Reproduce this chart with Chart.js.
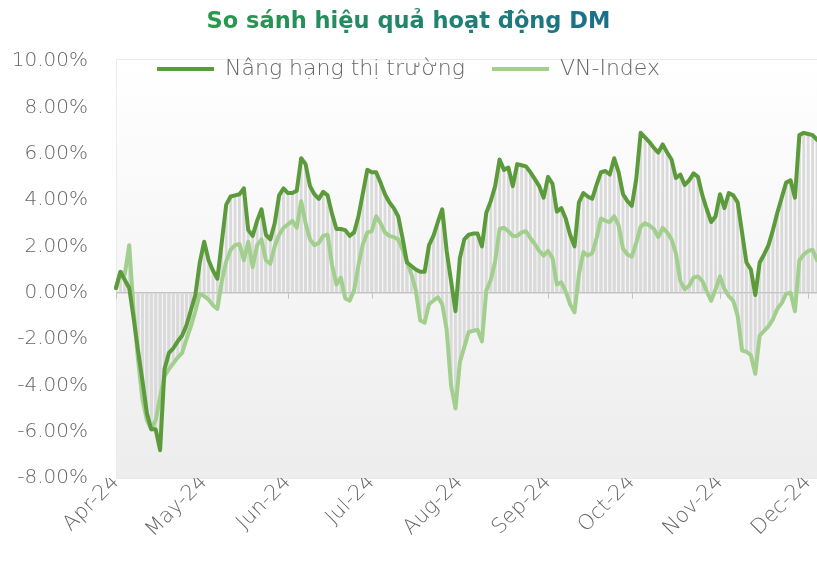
<!DOCTYPE html>
<html>
<head>
<meta charset="utf-8">
<script src="https://cdn.jsdelivr.net/npm/chart.js@4.4.1/dist/chart.umd.min.js"></script>
<style>
html,body{margin:0;padding:0;background:#ffffff;}
canvas{display:block;}
</style>
</head>
<body>
<canvas id="c" width="817" height="569"></canvas>
<script>
// ---- data ----
const monthLabels = ['Apr-24','May-24','Jun-24','Jul-24','Aug-24','Sep-24','Oct-24','Nov-24','Dec-24'];
const monthStartIndex = [0, 20, 39, 58, 78, 98, 117, 137, 157];

const nangHang = [
 0.2, 0.9, 0.55, 0.2, -1.1, -2.5, -3.8, -5.2, -5.9, -5.9,
 -6.8, -3.3, -2.6, -2.4, -2.1, -1.85, -1.4, -0.75, -0.1, 1.3,
 2.2, 1.4, 0.95, 0.6, 2.2, 3.8, 4.15, 4.2, 4.25, 4.5,
 2.7, 2.45, 3.1, 3.6, 2.5, 2.3, 3.0, 4.2, 4.5, 4.3,
 4.3, 4.4, 5.8, 5.55, 4.6, 4.25, 4.05, 4.35, 4.2, 3.4,
 2.75, 2.75, 2.7, 2.45, 2.6, 3.3, 4.3, 5.3, 5.2, 5.2,
 4.75, 4.25, 3.9, 3.65, 3.3, 2.35, 1.3, 1.15, 1.0, 0.9,
 0.9, 2.05, 2.45, 3.05, 3.6, 1.8, 0.5, -0.8, 1.5, 2.3,
 2.5, 2.55, 2.55, 2.0, 3.45, 3.95, 4.6, 5.75, 5.3, 5.4,
 4.6, 5.55, 5.5, 5.45, 5.2, 4.9, 4.6, 4.1, 5.0, 4.7,
 3.5, 3.65, 3.2, 2.5, 2.0, 3.9, 4.3, 4.15, 4.05, 4.65,
 5.2, 5.25, 5.1, 5.8, 5.2, 4.25, 3.95, 3.75, 4.9, 6.9,
 6.7, 6.5, 6.25, 6.05, 6.4, 6.05, 5.75, 4.95, 5.1, 4.65,
 4.85, 5.15, 5.0, 4.2, 3.6, 3.05, 3.3, 4.25, 3.65, 4.3,
 4.2, 3.9, 2.6, 1.3, 1.0, -0.1, 1.3, 1.65, 2.05, 2.7,
 3.45, 4.1, 4.75, 4.85, 4.1, 6.8, 6.9, 6.85, 6.8, 6.6
];

const vnIndex = [
 0.2, 0.9, 0.8, 2.05, -0.8, -2.9, -4.6, -5.5, -5.9, -5.5,
 -4.5, -3.6, -3.3, -3.05, -2.8, -2.6, -2.0, -1.45, -0.8, -0.05,
 -0.15, -0.3, -0.55, -0.7, 0.5, 1.35, 1.85, 2.05, 2.1, 1.4,
 2.2, 1.1, 2.05, 2.3, 1.4, 1.25, 2.0, 2.5, 2.8, 2.95,
 3.1, 2.8, 3.95, 3.0, 2.3, 2.05, 2.15, 2.45, 2.5, 1.2,
 0.35, 0.65, -0.25, -0.35, 0.1, 1.2, 2.1, 2.6, 2.65, 3.3,
 3.0, 2.6, 2.45, 2.4, 2.3, 1.85, 1.35, 0.8, 0.1, -1.2,
 -1.3, -0.5, -0.35, -0.2, -0.5, -1.6, -4.0, -5.0, -3.0, -2.35,
 -1.7, -1.65, -1.6, -2.1, 0.1, 0.55, 1.35, 2.75, 2.8, 2.65,
 2.45, 2.45, 2.6, 2.65, 2.35, 2.1, 1.8, 1.6, 1.8, 1.5,
 0.35, 0.45, 0.05, -0.5, -0.85, 0.8, 1.75, 1.6, 1.7, 2.35,
 3.2, 3.1, 3.05, 3.3, 2.9, 1.9, 1.65, 1.55, 2.15, 2.85,
 3.0, 2.9, 2.75, 2.4, 2.8, 2.6, 2.3, 1.7, 0.5, 0.15,
 0.3, 0.65, 0.7, 0.5, 0.05, -0.35, 0.15, 0.7, 0.15, -0.15,
 -0.35, -1.0, -2.5, -2.55, -2.7, -3.5, -1.85, -1.65, -1.45, -1.15,
 -0.7, -0.45, -0.05, 0.0, -0.8, 1.4, 1.65, 1.8, 1.85, 1.4
];

const seriesNames = ['Nâng hạng thị trường', 'VN-Index'];
const chartTitle = 'So sánh hiệu quả hoạt động DM';
const yMin = -8, yMax = 10, yStep = 2;

// category labels: month name at month start, blank elsewhere
const categories = nangHang.map((_, i) => {
  const k = monthStartIndex.indexOf(i);
  return k >= 0 ? monthLabels[k] : '';
});

// ---- plugins ----
const plotBg = {
  id: 'plotBg',
  beforeDraw(chart) {
    const {ctx, chartArea: a} = chart;
    const g = ctx.createLinearGradient(0, a.top, 0, a.bottom);
    g.addColorStop(0, '#ffffff');
    g.addColorStop(1, '#ededed');
    ctx.save();
    ctx.fillStyle = g;
    ctx.fillRect(a.left, a.top - 2, a.right - a.left, a.bottom - a.top + 2);
    ctx.strokeStyle = '#ebebeb';
    ctx.lineWidth = 1;
    ctx.strokeRect(a.left + 0.5, a.top - 1.5, a.right - a.left, a.bottom - a.top + 2);
    ctx.restore();
  }
};

// let the legend (which overlaps the top of the plot) draw outside its reserved slot
const legendOverlap = {
  id: 'legendOverlap',
  afterLayout(chart) {
    const lg = chart.legend;
    if (!lg) return;
    lg.height = 60;
    lg.bottom = lg.top + 60;
  }
};

const zeroTicks = {
  id: 'zeroTicks',
  beforeDatasetsDraw(chart) {
    const {ctx, scales: {x, y}} = chart;
    const y0 = y.getPixelForValue(0);
    ctx.save();
    ctx.strokeStyle = '#c4c4c4';
    ctx.lineWidth = 1;
    x.ticks.forEach(t => {
      const px = Math.round(x.getPixelForValue(t.value)) + 0.5;
      ctx.beginPath();
      ctx.moveTo(px, y0);
      ctx.lineTo(px, y0 + 6);
      ctx.stroke();
    });
    ctx.restore();
  }
};

const titleGrad = document.createElement('canvas').getContext('2d').createLinearGradient(-205, 0, 205, 0);
titleGrad.addColorStop(0, '#2a9a4a');
titleGrad.addColorStop(1, '#1a6f8c');

const FONT = "'DejaVu Sans', sans-serif";
const TXT = '#666666';

new Chart(document.getElementById('c'), {
  type: 'line',
  data: {
    labels: categories,
    datasets: [
      {
        type: 'line', label: seriesNames[0], data: nangHang,
        borderColor: '#5b9b3b', backgroundColor: '#5b9b3b',
        borderWidth: 4, pointRadius: 0, tension: 0, order: 1,
        borderJoinStyle: 'round', borderCapStyle: 'round'
      },
      {
        type: 'line', label: seriesNames[1], data: vnIndex,
        borderColor: '#a3cf8e', backgroundColor: '#a3cf8e',
        borderWidth: 4, pointRadius: 0, tension: 0, order: 2,
        borderJoinStyle: 'round', borderCapStyle: 'round'
      },
      {
        type: 'bar', label: 'bar1', data: nangHang,
        backgroundColor: '#dadada', grouped: false, order: 3,
        barPercentage: 0.65, categoryPercentage: 1
      },
      {
        type: 'bar', label: 'bar2', data: vnIndex,
        backgroundColor: '#dadada', grouped: false, order: 4,
        barPercentage: 0.65, categoryPercentage: 1
      }
    ]
  },
  options: {
    responsive: false,
    animation: false,
    devicePixelRatio: 1,
    layout: { padding: 0 },
    plugins: {
      title: {
        display: true, text: chartTitle,
        color: titleGrad,
        font: { family: FONT, size: 22.5, weight: 'bold' },
        padding: { top: 9, bottom: -5 }
      },
      legend: {
        display: true, position: 'top', align: 'center',
        maxHeight: 30,
        labels: {
          usePointStyle: true, pointStyle: 'line', pointStyleWidth: 57,
          boxHeight: 22, padding: 27,
          color: TXT,
          font: { family: FONT, size: 22, weight: 300 },
          filter: item => item.datasetIndex < 2
        }
      },
      tooltip: { enabled: false }
    },
    scales: {
      x: {
        type: 'category', offset: false,
        grid: { display: false, drawTicks: false },
        border: { display: false },
        ticks: {
          autoSkip: false, maxRotation: 45, minRotation: 45,
          padding: -8, color: TXT,
          font: { family: FONT, size: 21, weight: 300 }
        },
        afterBuildTicks: scale => {
          scale.ticks = scale.ticks.filter(t => categories[t.value] !== '');
        },
        afterFit: scale => {
          scale.height = 91;
          scale.paddingLeft = 0;
          scale.paddingRight = 0;
        }
      },
      y: {
        min: yMin, max: yMax,
        ticks: {
          stepSize: yStep, padding: 28, color: TXT,
          font: { family: FONT, size: 20, weight: 300 },
          callback: v => v.toFixed(2) + '%'
        },
        grid: {
          drawTicks: false,
          color: c => (c.tick && c.tick.value === 0) ? '#c4c4c4' : 'rgba(0,0,0,0)',
          lineWidth: 1.5
        },
        border: { display: false },
        afterFit: scale => { scale.width = 116; }
      }
    }
  },
  plugins: [plotBg, legendOverlap, zeroTicks]
});
</script>
</body>
</html>
